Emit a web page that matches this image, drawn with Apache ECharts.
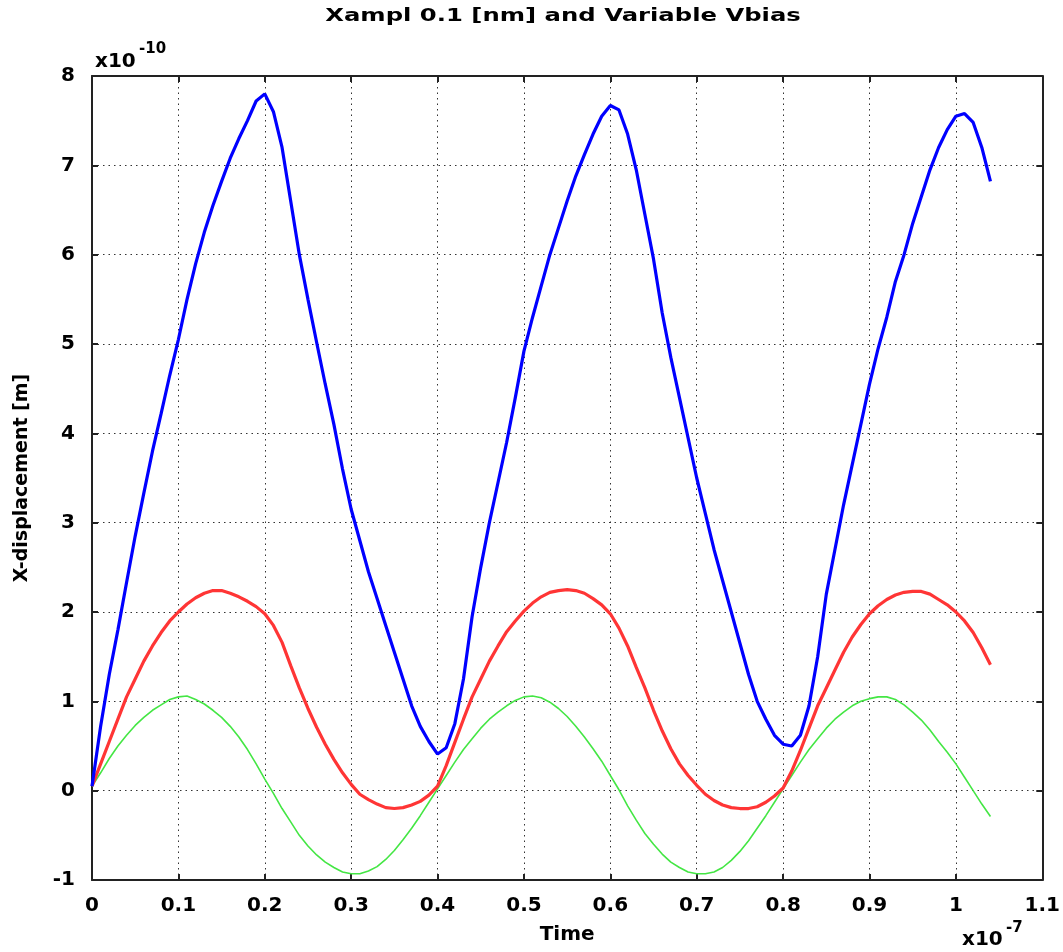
<!DOCTYPE html>
<html>
<head>
<meta charset="utf-8">
<script src="https://cdn.jsdelivr.net/npm/echarts@6/dist/echarts.min.js"></script>
<style>
html,body{margin:0;padding:0;background:#fff;}
#chart{width:1063px;height:952px;}
</style>
</head>
<body>
<div id="chart"></div>
<script>
// Time axis values (x 1e-7)
const time = [0,0.01,0.02,0.03,0.04,0.05,0.06,0.07,0.08,0.09,
0.10,0.11,0.12,0.13,0.14,0.15,0.16,0.17,0.18,0.19,
0.20,0.21,0.22,0.23,0.24,0.25,0.26,0.27,0.28,0.29,
0.30,0.31,0.32,0.33,0.34,0.35,0.36,0.37,0.38,0.39,
0.40,0.41,0.42,0.43,0.44,0.45,0.46,0.47,0.48,0.49,
0.50,0.51,0.52,0.53,0.54,0.55,0.56,0.57,0.58,0.59,
0.60,0.61,0.62,0.63,0.64,0.65,0.66,0.67,0.68,0.69,
0.70,0.71,0.72,0.73,0.74,0.75,0.76,0.77,0.78,0.79,
0.80,0.81,0.82,0.83,0.84,0.85,0.86,0.87,0.88,0.89,
0.90,0.91,0.92,0.93,0.94,0.95,0.96,0.97,0.98,0.99,
1.00,1.01,1.02,1.03,1.04];

// X-displacement values (x 1e-10 m)
const blueY = [0.05,0.72,1.3,1.8,2.33,2.85,3.33,3.8,4.22,4.65,
5.05,5.5,5.9,6.25,6.55,6.82,7.08,7.3,7.5,7.72,
7.8,7.6,7.2,6.6,6.0,5.5,5.02,4.55,4.1,3.6,
3.15,2.8,2.45,2.15,1.85,1.55,1.25,0.95,0.72,0.55,
0.41,0.48,0.75,1.25,1.95,2.5,3.0,3.45,3.9,4.4,
4.92,5.3,5.65,6.0,6.3,6.6,6.88,7.12,7.35,7.55,
7.67,7.62,7.35,6.95,6.45,5.95,5.35,4.85,4.4,3.95,
3.5,3.1,2.7,2.35,2.0,1.65,1.3,1.0,0.8,0.62,
0.52,0.5,0.62,0.95,1.5,2.2,2.7,3.2,3.65,4.1,
4.55,4.95,5.3,5.7,6.0,6.35,6.65,6.95,7.2,7.4,
7.55,7.58,7.48,7.2,6.82];

const redY = [0.05,0.3,0.55,0.8,1.05,1.25,1.45,1.62,1.77,1.9,
2.0,2.09,2.16,2.21,2.24,2.24,2.21,2.17,2.12,2.06,
1.98,1.85,1.66,1.4,1.15,0.92,0.71,0.52,0.35,0.2,
0.07,-0.04,-0.1,-0.15,-0.19,-0.2,-0.19,-0.16,-0.12,-0.05,
0.05,0.28,0.54,0.8,1.05,1.25,1.45,1.62,1.78,1.9,
2.01,2.1,2.17,2.22,2.24,2.25,2.24,2.21,2.15,2.08,
1.98,1.82,1.62,1.38,1.15,0.9,0.67,0.47,0.3,0.17,
0.06,-0.04,-0.11,-0.16,-0.19,-0.2,-0.2,-0.18,-0.13,-0.06,
0.03,0.22,0.45,0.7,0.95,1.15,1.35,1.55,1.72,1.86,
1.98,2.07,2.14,2.19,2.22,2.23,2.23,2.2,2.14,2.08,
2.0,1.9,1.77,1.6,1.41];

const greenY = [0.05,0.2,0.36,0.5,0.62,0.73,0.82,0.9,0.96,1.02,
1.05,1.06,1.02,0.97,0.9,0.82,0.72,0.6,0.46,0.3,
0.13,-0.03,-0.2,-0.35,-0.5,-0.62,-0.72,-0.8,-0.86,-0.91,
-0.93,-0.93,-0.9,-0.85,-0.77,-0.67,-0.55,-0.42,-0.28,-0.13,
0.02,0.17,0.32,0.46,0.58,0.7,0.8,0.88,0.95,1.01,
1.05,1.06,1.04,0.99,0.92,0.83,0.72,0.6,0.47,0.33,
0.17,0.01,-0.17,-0.33,-0.48,-0.6,-0.71,-0.8,-0.86,-0.91,
-0.93,-0.93,-0.91,-0.86,-0.78,-0.68,-0.56,-0.42,-0.28,-0.13,
0.02,0.17,0.32,0.46,0.58,0.7,0.8,0.88,0.95,1.0,
1.03,1.05,1.05,1.02,0.96,0.88,0.79,0.68,0.55,0.43,
0.3,0.15,0.0,-0.15,-0.29];

const xTicks = {min: 0, max: 1.1, interval: 0.1};
const yTicks = {min: -1, max: 8, interval: 1};

const titleText = 'Xampl 0.1 [nm] and Variable Vbias';
const xName = 'Time';
const yName = 'X-displacement [m]';

const FONT = '"DejaVu Sans", sans-serif';
const chart = echarts.init(document.getElementById('chart'), null, {renderer: 'canvas'});

function pairs(ys){ return time.map((t,i)=>[t, ys[i]]); }

const gridDots = {show: true, lineStyle: {color: '#333', width: 1, type: [1.5, 4]}};
const frameLine = {show: true, onZero: false, lineStyle: {color: '#222', width: 2}};
const tick = {show: true, inside: true, length: 6, lineStyle: {color: '#222', width: 2}};

chart.setOption({
  animation: false,
  backgroundColor: '#fff',
  grid: {left: 92, top: 76, width: 952, height: 804, containLabel: false},
  xAxis: [{
    type: 'value', min: xTicks.min, max: xTicks.max, interval: xTicks.interval,
    axisLine: frameLine, axisTick: tick, splitLine: gridDots,
    axisLabel: {color: '#000', fontFamily: FONT, fontWeight: 'bold', fontSize: 20, margin: 16,
      formatter: v => String(+v.toFixed(1))},
    name: xName, nameLocation: 'middle', nameGap: 45,
    nameTextStyle: {color: '#000', fontFamily: FONT, fontWeight: 'bold', fontSize: 20}
  },{
    type: 'value', position: 'top', min: xTicks.min, max: xTicks.max, interval: xTicks.interval,
    axisLine: frameLine, axisTick: tick, splitLine: {show: false}, axisLabel: {show: false}
  }],
  yAxis: [{
    type: 'value', min: yTicks.min, max: yTicks.max, interval: yTicks.interval,
    axisLine: frameLine, axisTick: tick, splitLine: gridDots,
    axisLabel: {color: '#000', fontFamily: FONT, fontWeight: 'bold', fontSize: 20, margin: 17},
    name: yName, nameLocation: 'middle', nameGap: 60,
    nameTextStyle: {color: '#000', fontFamily: FONT, fontWeight: 'bold', fontSize: 19}
  },{
    type: 'value', position: 'right', min: yTicks.min, max: yTicks.max, interval: yTicks.interval,
    axisLine: frameLine, axisTick: tick, splitLine: {show: false}, axisLabel: {show: false}
  }],
  series: [
    {type: 'line', data: pairs(greenY), showSymbol: false, lineStyle: {color: '#44e644', width: 1.6}, z: 3},
    {type: 'line', data: pairs(redY), showSymbol: false, lineStyle: {color: '#ff3535', width: 3.2}, z: 4},
    {type: 'line', data: pairs(blueY), showSymbol: false, lineStyle: {color: '#0000ff', width: 3.2}, z: 5}
  ],
  graphic: [
    {type: 'text', x: 563, y: 7, scaleX: 1.35, style: {text: titleText, textAlign: 'center', fill: '#000', font: 'bold 18px ' + FONT}},
    {type: 'text', x: 95, y: 52, style: {text: 'x10', fill: '#000', font: 'bold 20px ' + FONT}},
    {type: 'text', x: 139, y: 42, style: {text: '-10', fill: '#000', font: 'bold 15px ' + FONT}},
    {type: 'text', x: 962, y: 930, style: {text: 'x10', fill: '#000', font: 'bold 20px ' + FONT}},
    {type: 'text', x: 1006, y: 921, style: {text: '-7', fill: '#000', font: 'bold 15px ' + FONT}}
  ]
});
</script>
</body>
</html>
